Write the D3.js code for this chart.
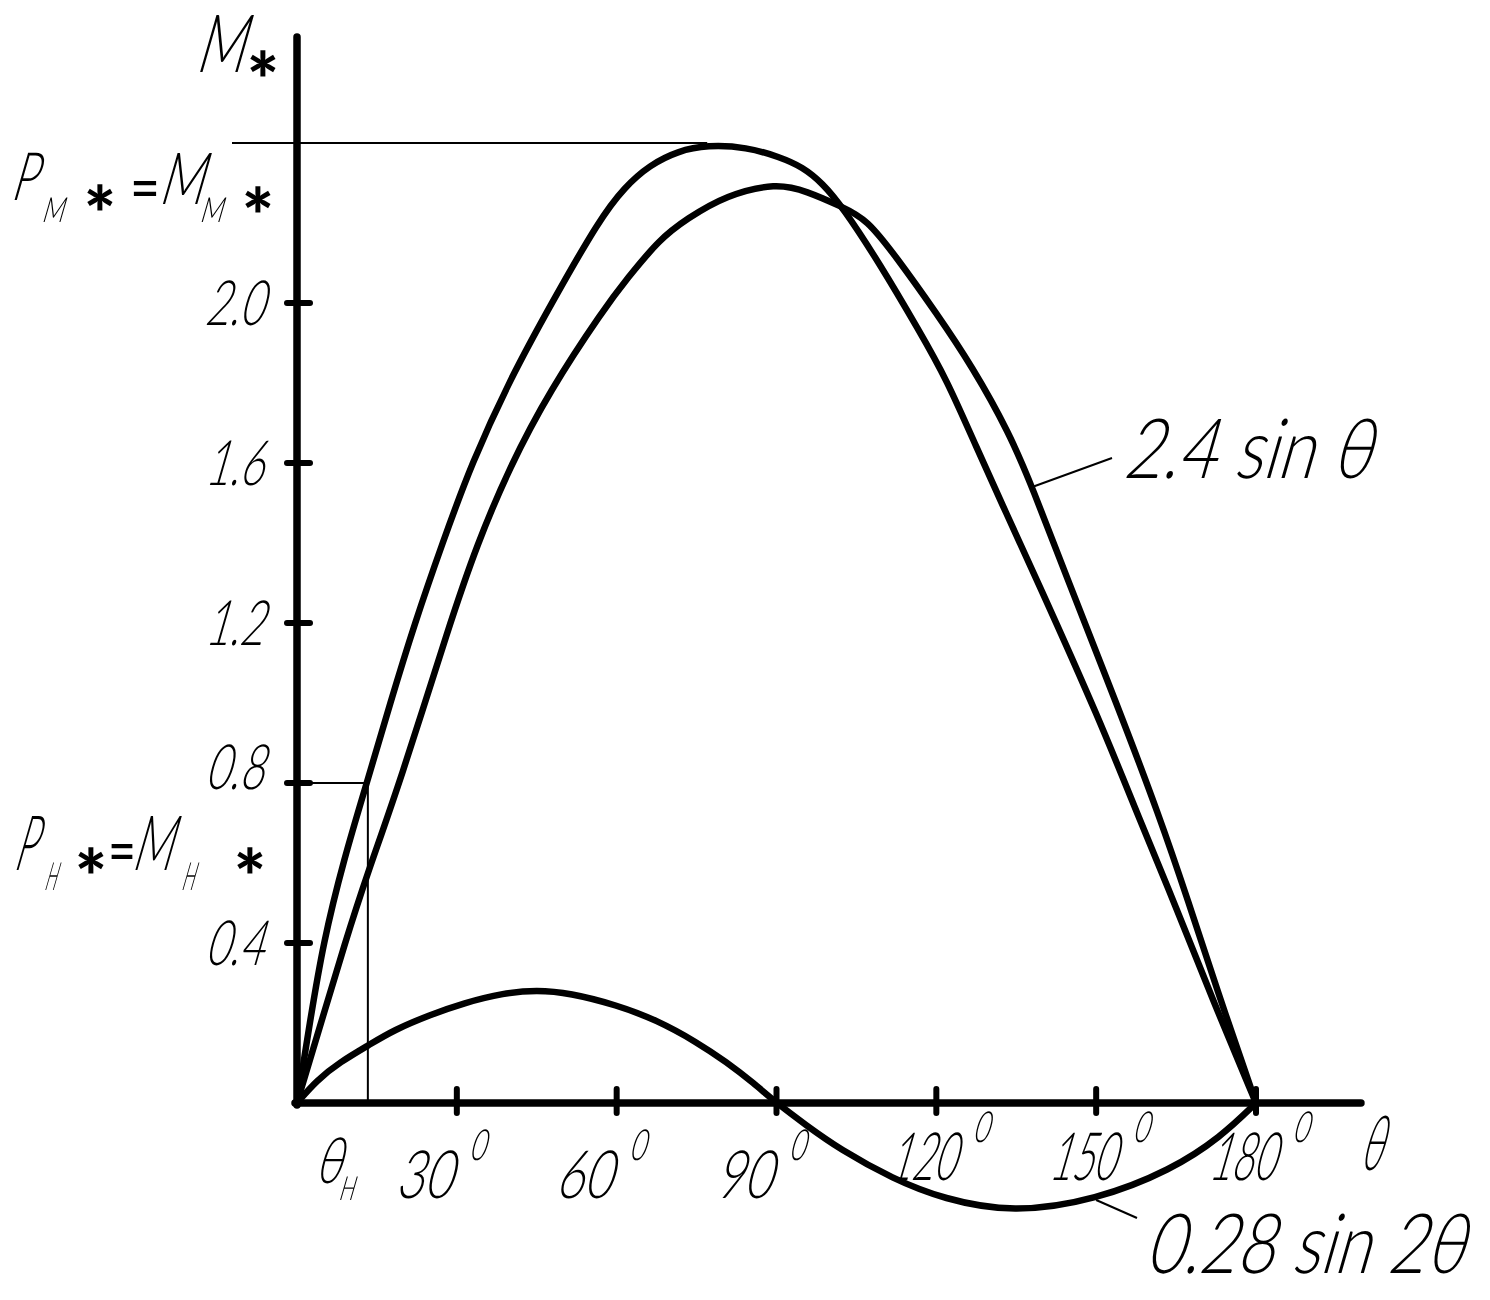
<!DOCTYPE html>
<html><head><meta charset="utf-8">
<script src="https://cdn.jsdelivr.net/npm/d3@7"></script>
<style>html,body{margin:0;padding:0;background:#fff;} svg{display:block;will-change:transform} text{text-rendering:geometricPrecision}</style>
</head><body>
<svg id="chart" width="1490" height="1300"></svg>
<script>
// ---- data ----
// resultant curve M* = 2.4 sin θ + 0.28 sin 2θ (as drawn)
const sumTheta = [0, 2.4, 4.9, 8.8, 13.1, 17.5, 22.1, 27.3, 32.8, 40.0, 47.8, 56.8, 61.5, 66.2, 71.5, 77.0, 84.4, 90.6, 94.9, 98.6, 102.4, 109.3, 116.8, 121.9, 127.5, 133.1, 138.8, 150.6, 158.1, 165.0, 171.8, 180];
const sumM     = [0, 0.2, 0.40, 0.61, 0.80, 1.0, 1.2, 1.40, 1.6, 1.81, 2.0, 2.21, 2.29, 2.345, 2.38, 2.395, 2.39, 2.365, 2.34, 2.30, 2.24, 2.10, 1.93, 1.81, 1.64, 1.475, 1.31, 0.96, 0.71, 0.49, 0.26, 0];
// 2.4 sin θ (as drawn)
const baseTheta = [0, 4.5, 9.0, 13.1, 19.3, 28.7, 33.75, 39.9, 47.4, 57.6, 61.9, 68.1, 73.1, 80.6, 90.0, 95.6, 102.4, 106.9, 112.5, 120.0, 126.8, 133.7, 138.0, 144.6, 153.8, 161.8, 167.4, 172.5, 180];
const baseM     = [0, 0.2, 0.4, 0.57, 0.8, 1.2, 1.395, 1.59, 1.78, 1.985, 2.06, 2.16, 2.21, 2.27, 2.30, 2.28, 2.24, 2.21, 2.115, 1.975, 1.84, 1.675, 1.54, 1.31, 1.0, 0.72, 0.50, 0.29, 0];
// 0.28 sin 2θ (as drawn)
const harmTheta = [0, 3.75, 8.1, 13.5, 18.2, 24.9, 31.3, 38.8, 45.0, 51.2, 60.0, 67.5, 75.0, 80.6, 85.7, 90, 95.5, 101.8, 111.9, 121.3, 134.4, 150, 164.1, 173.4, 180];
const harmM     = [0, 0.0575, 0.1025, 0.145, 0.1825, 0.22, 0.25, 0.275, 0.2825, 0.275, 0.245, 0.2075, 0.1525, 0.1025, 0.05, 0, -0.055, -0.115, -0.19, -0.24, -0.275, -0.2425, -0.1675, -0.085, 0];

const xTickValues = [30, 60, 90, 120, 150, 180];
const xTickLabels = ["30", "60", "90", "120", "150", "180"];
const yTickValues = [0.4, 0.8, 1.2, 1.6, 2.0];
const yTickLabels = ["0.4", "0.8", "1.2", "1.6", "2.0"];
const thetaNom = 13.3;   // θн
const mNom = 0.8;        // Pн* = Mн*
const mMax = 2.4;        // Pм* = Mм*
const thetaAtMax = 77;
const thetaAxisEnd = 199.7;
const mAxisEnd = 2.665;
const labelBase = "2.4 sin θ";
const labelHarm = "0.28 sin 2θ";

// ---- drawing ----
const svg = d3.select("#chart");
svg.append("rect").attr("width",1490).attr("height",1300).attr("fill","#fff");
const x = d3.scaleLinear().domain([0, 180]).range([297, 1256]);
const y = d3.scaleLinear().domain([0, 2.4]).range([1103, 143]);

const FONT = "Lato, 'DejaVu Sans', sans-serif";
const SK = 16, tanS = Math.tan(SK * Math.PI / 180);

function T(xl, xr, bl, cap, s, weight) {
  const fs = cap / 0.72;
  const w = Math.max(4, (xr - xl) - tanS * cap * 0.85) + 0.06 * fs;
  const g = svg.append("g").attr("transform", `translate(${xl - 0.03 * fs},${bl}) skewX(${-SK})`);
  g.append("text").attr("x", 0).attr("y", 0)
    .attr("font-family", FONT).attr("font-weight", weight || 300)
    .attr("font-size", fs).attr("textLength", w).attr("lengthAdjust", "spacingAndGlyphs")
    .attr("fill", "#000").text(s);
}
function EQ(xl, xr, cy) {
  const fs = 64;
  svg.append("text").attr("x", xl - 3).attr("y", cy + 0.31 * fs)
    .attr("font-family", FONT).attr("font-weight", 400).attr("font-size", fs)
    .attr("textLength", xr - xl + 6).attr("lengthAdjust", "spacingAndGlyphs")
    .attr("fill", "#000").text("=");
}
function STAR(cx, cy) {
  const fs = 76;
  svg.append("text").attr("x", cx).attr("y", cy + 0.56 * fs)
    .attr("text-anchor", "middle").attr("font-family", FONT).attr("font-weight", 900)
    .attr("font-size", fs).attr("fill", "#000").text("*");
}

// thin construction lines
const thin = svg.append("g").attr("stroke", "#000").attr("stroke-width", 2).attr("fill", "none");
thin.append("line").attr("x1", x(0) - 65).attr("x2", x(thetaAtMax)).attr("y1", y(mMax)).attr("y2", y(mMax));
thin.append("line").attr("x1", x(0)).attr("x2", x(thetaNom)).attr("y1", y(mNom)).attr("y2", y(mNom));
thin.append("line").attr("x1", x(thetaNom)).attr("x2", x(thetaNom)).attr("y1", y(mNom)).attr("y2", y(0));
// leaders
thin.append("line").attr("x1", x(138)).attr("y1", y(1.54)).attr("x2", 1112).attr("y2", 458);
thin.append("line").attr("x1", x(150)).attr("y1", y(-0.2425)).attr("x2", 1137).attr("y2", 1218);

// curves
const line = d3.line().x(d => x(d[0])).y(d => y(d[1])).curve(d3.curveBasis);
const curves = svg.append("g").attr("fill", "none").attr("stroke", "#000").attr("stroke-width", 6.5)
  .attr("stroke-linejoin", "round").attr("stroke-linecap", "round");
curves.append("path").attr("d", line(sumTheta.map((t, i) => [t, sumM[i]])));
curves.append("path").attr("d", line(baseTheta.map((t, i) => [t, baseM[i]])));
curves.append("path").attr("d", line(harmTheta.map((t, i) => [t, harmM[i]])));

// axes
const ax = svg.append("g").attr("stroke", "#000").attr("stroke-linecap", "round");
ax.append("line").attr("x1", x(0)).attr("x2", x(0)).attr("y1", y(0) + 2).attr("y2", y(mAxisEnd)).attr("stroke-width", 7.5);
ax.append("line").attr("x1", x(0) - 2).attr("x2", x(thetaAxisEnd)).attr("y1", y(0)).attr("y2", y(0)).attr("stroke-width", 7.5);
ax.selectAll(".yt").data(yTickValues).enter().append("line")
  .attr("x1", x(0) - 10).attr("x2", x(0) + 13).attr("y1", d => y(d)).attr("y2", d => y(d)).attr("stroke-width", 6);
ax.selectAll(".xt").data(xTickValues).enter().append("line")
  .attr("x1", d => x(d)).attr("x2", d => x(d)).attr("y1", y(0) - 14).attr("y2", y(0) + 10).attr("stroke-width", 6);

// y tick labels
yTickValues.forEach((v, i) => {
  const s = yTickLabels[i];
  const bl = y(v) + (v === mNom ? 6 : 22);
  const wInk = 66;
  T(272 - wInk, 272, bl, 45, s);
});
// x tick labels with degree superscript "0"
xTickValues.forEach((v, i) => {
  const s = xTickLabels[i];
  const bl = v <= 90 ? 1198 : 1180;
  const w = s.length === 2 ? 64 : 74;
  const cx = x(v) + (s.length === 2 ? -28 : -9);
  T(cx - w / 2, cx + w / 2, bl, 48, s);
  T(cx + w / 2 + 9, cx + w / 2 + 30, bl - 38, 31, "0");
});
// θн
T(316, 350, 1183, 46, "θ");
T(339, 358, 1200, 24, "H");
// θ axis name
T(1361, 1392, 1170, 55, "θ");
// M* axis name
T(197, 255, 72, 58, "M");
STAR(263, 65);
// Pм* = Mм*
T(12, 45, 200, 48, "P");
T(42, 68, 222, 25, "M");
STAR(100, 199);
EQ(133, 157, 190);
T(160, 213, 204, 52, "M");
T(200, 227, 222, 25, "M");
STAR(258, 201);
// Pн* = Mн*
T(15, 45, 870, 55, "P");
T(45, 61, 890, 28, "H");
STAR(91, 862);
EQ(111, 133, 853);
T(133, 182, 870, 55, "M");
T(182, 199, 890, 28, "H");
STAR(250, 862);
// curve labels
T(1125, 1382, 478, 60, labelBase);
T(1147, 1475, 1273, 60, labelHarm);
</script>
</body></html>
